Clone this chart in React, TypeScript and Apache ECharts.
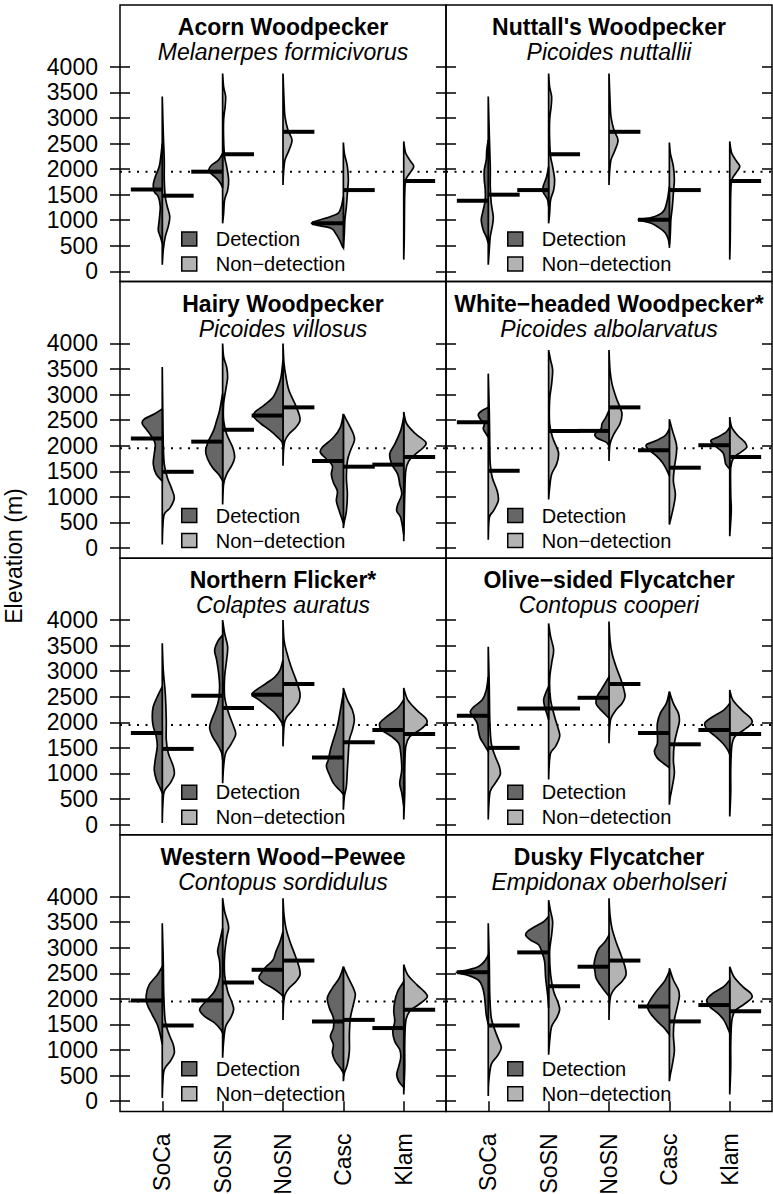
import React, { useEffect, useRef } from "react";
import * as echarts from "echarts";

// ---------- labels ----------
const REGIONS = ["SoCa", "SoSN", "NoSN", "Casc", "Klam"];
const ELEVATION_TICKS = [0, 500, 1000, 1500, 2000, 2500, 3000, 3500, 4000];
const REFERENCE_ELEVATION = 1950;
const COMMON_NAMES = [
  "Acorn Woodpecker",
  "Nuttall's Woodpecker",
  "Hairy Woodpecker",
  "White\u2212headed Woodpecker*",
  "Northern Flicker*",
  "Olive\u2212sided Flycatcher",
  "Western Wood\u2212Pewee",
  "Dusky Flycatcher",
];
const SCIENTIFIC_NAMES = [
  "Melanerpes formicivorus",
  "Picoides nuttallii",
  "Picoides villosus",
  "Picoides albolarvatus",
  "Colaptes auratus",
  "Contopus cooperi",
  "Contopus sordidulus",
  "Empidonax oberholseri",
];
const DETECTION = "Detection";
const NON_DETECTION = "Non\u2212detection";

// ---------- densities: [elevation, density] from top to bottom, per region ----------
// Acorn Woodpecker
const ACWO_DET = [
  [[2500, 0], [2240, 1.5], [2050, 3], [1850, 7], [1690, 9], [1560, 8], [1460, 4], [1270, 2], [1010, 3], [810, 4], [680, 2], [550, 0]],
  [[2310, 0], [2180, 4], [2080, 11], [1980, 14], [1920, 12], [1820, 6], [1720, 2], [1630, 0]],
  null,
  [[1460, 0], [1270, 2], [1140, 5], [1070, 13], [940, 32], [850, 13], [750, 8], [620, 4], [490, 1], [460, 0]],
  null,
];
const ACWO_DET_MED = [1600, 1950, null, 940, null];
const ACWO_NON = [
  [[3420, 0], [2700, 1], [2180, 2], [1790, 2], [1460, 3], [1270, 5], [1070, 7.5], [880, 6], [680, 3], [420, 1], [130, 0]],
  [[3870, 0], [3610, 1], [3420, 3], [3220, 2.5], [2960, 1], [2570, 1], [2240, 2], [2050, 4], [1790, 6], [1590, 5], [1400, 2], [1140, 1], [940, 0]],
  [[3870, 0], [3350, 1], [3020, 2], [2760, 5], [2570, 9], [2370, 6], [2180, 2], [1920, 0.5], [1690, 0]],
  [[2520, 0], [2310, 1], [2050, 4], [1790, 5], [1530, 4], [1270, 3], [1010, 1.5], [750, 1], [460, 0]],
  [[2540, 0], [2310, 2], [2150, 7], [2050, 10], [1920, 6], [1790, 2], [1530, 1], [1070, 0.7], [620, 0.5], [230, 0]],
];
const ACWO_NON_MED = [1480, 2290, 2730, 1590, 1770];

// Nuttall's Woodpecker
const NUWO_DET = [
  [[2570, 0], [2370, 1.5], [2180, 2], [1980, 4], [1790, 4], [1590, 3], [1400, 3], [1200, 5], [1010, 7], [810, 5], [680, 2], [550, 0]],
  [[2050, 0], [1850, 2], [1690, 5], [1590, 6], [1500, 4], [1400, 1], [1270, 0]],
  null,
  [[1660, 0], [1400, 2], [1200, 5], [1110, 10], [1040, 20], [1010, 31], [940, 18], [850, 10], [750, 4], [620, 1], [520, 0]],
  null,
];
const NUWO_DET_MED = [1380, 1590, null, 1010, null];
const NUWO_NON = [
  [[3420, 0], [2700, 1], [2050, 2], [1660, 2], [1330, 3], [1070, 5], [880, 4], [680, 2], [420, 1], [130, 0]],
  [[3870, 0], [3610, 1], [3420, 3], [3220, 2.5], [2960, 1], [2570, 1], [2240, 2], [2050, 4], [1790, 6], [1590, 5], [1400, 2], [1140, 1], [940, 0]],
  [[3870, 0], [3350, 1], [3020, 2], [2760, 5], [2570, 9], [2370, 6], [2180, 2], [1920, 0.5], [1690, 0]],
  [[2520, 0], [2310, 1], [2050, 4], [1790, 5], [1530, 4], [1270, 3], [1010, 1.5], [750, 1], [460, 0]],
  [[2540, 0], [2310, 2], [2150, 7], [2050, 10], [1920, 6], [1790, 2], [1530, 1], [1070, 0.7], [620, 0.5], [230, 0]],
];
const NUWO_NON_MED = [1500, 2290, 2730, 1590, 1770];

// Hairy Woodpecker
const HAWO_DET = [
  [[2720, 0], [2620, 8], [2520, 18], [2430, 20], [2300, 15], [2160, 10], [2030, 7], [1840, 8], [1640, 9], [1440, 6], [1310, 0]],
  [[3020, 0], [2690, 3], [2490, 6], [2300, 9], [2100, 14], [1900, 17], [1740, 15], [1570, 10], [1440, 4], [1310, 0]],
  [[3670, 0], [3340, 2], [3150, 5], [2950, 10], [2790, 19], [2660, 28], [2560, 29], [2430, 22], [2300, 13], [2160, 5], [2070, 1], [1970, 0]],
  [[2620, 0], [2360, 3], [2160, 10], [1970, 21], [1870, 23], [1740, 17], [1610, 11], [1440, 12], [1280, 10], [1110, 6], [920, 7], [720, 4], [490, 0]],
  [[2560, 0], [2300, 3], [2030, 9], [1840, 14], [1640, 12], [1440, 6], [1250, 4], [1050, 2], [850, 6], [720, 7], [590, 3], [260, 0]],
];
const HAWO_DET_MED = [2140, 2080, 2590, 1700, 1630];
const HAWO_NON = [
  [[3540, 0], [2690, 0.5], [2030, 1], [1640, 2], [1380, 5], [1180, 9], [980, 12], [790, 8], [660, 2], [390, 0.5], [70, 0]],
  [[4000, 0], [3740, 1], [3540, 4], [3340, 5], [3080, 3], [2820, 1], [2490, 1], [2230, 4], [1970, 10], [1770, 12], [1610, 9], [1440, 4], [1250, 1], [850, 0]],
  [[4000, 0], [3610, 1], [3340, 3], [3080, 6], [2820, 12], [2620, 16], [2490, 17], [2360, 13], [2230, 6], [2100, 2], [1900, 0.5], [1610, 0]],
  [[2620, 0], [2430, 5], [2230, 10], [2100, 11], [1900, 7], [1700, 4], [1380, 3], [1050, 4], [720, 3], [520, 1], [390, 0]],
  [[2660, 0], [2430, 3], [2230, 12], [2070, 22], [1970, 20], [1840, 12], [1700, 5], [1510, 2], [1050, 1], [590, 0.5], [130, 0]],
];
const HAWO_NON_MED = [1490, 2310, 2750, 1590, 1780];

// White-headed Woodpecker
const WHWO_DET = [
  [[2750, 0], [2690, 6], [2610, 10], [2520, 8], [2430, 4], [2330, 5], [2230, 2], [2160, 0]],
  null,
  [[2690, 0], [2560, 3], [2430, 7], [2330, 8], [2230, 14], [2150, 12], [2070, 3], [2000, 0]],
  [[2330, 0], [2200, 4], [2100, 13], [2020, 23], [1930, 21], [1800, 13], [1670, 7], [1540, 3], [1410, 0]],
  [[2360, 0], [2260, 4], [2160, 13], [2100, 19], [2000, 15], [1870, 7], [1740, 5], [1640, 4], [1540, 0]],
];
const WHWO_DET_MED = [2460, null, 2290, 1910, 2010];
const WHWO_NON = [
  [[3410, 0], [2690, 1], [2030, 1.5], [1640, 2], [1380, 4], [1110, 9], [920, 10], [720, 5], [590, 1], [160, 0]],
  [[3870, 0], [3670, 2], [3480, 4], [3210, 3], [2890, 1], [2430, 1], [2160, 4], [1970, 8], [1840, 10], [1640, 8], [1440, 3], [1180, 1], [950, 0]],
  [[3870, 0], [3480, 1], [3210, 3], [2950, 7], [2750, 11], [2620, 13], [2430, 11], [2230, 5], [2030, 1], [1700, 0]],
  [[2520, 0], [2300, 3], [2030, 7], [1840, 7], [1570, 5], [1310, 4], [1050, 6], [790, 4], [460, 0]],
  [[2560, 0], [2360, 2], [2200, 8], [2070, 15], [1970, 17], [1870, 11], [1770, 4], [1570, 1], [1050, 1], [720, 1.5], [230, 0]],
];
const WHWO_NON_MED = [1510, 2290, 2750, 1570, 1780];

// Northern Flicker
const NOFL_DET = [
  [[2700, 0], [2500, 5], [2310, 9], [2110, 10], [1920, 9], [1720, 6], [1530, 5], [1270, 7], [1070, 8], [880, 6], [750, 3], [620, 0]],
  [[3710, 0], [3580, 5], [3410, 8], [3220, 6], [2960, 4], [2700, 3], [2440, 4], [2240, 7], [2050, 11], [1890, 13], [1720, 10], [1560, 5], [1400, 1], [1270, 0]],
  [[3220, 0], [3020, 3], [2890, 8], [2760, 17], [2630, 27], [2540, 31], [2440, 24], [2310, 16], [2180, 8], [2050, 3], [1950, 0]],
  [[2570, 0], [2240, 3], [1920, 6], [1660, 10], [1460, 13], [1270, 15], [1140, 17], [980, 14], [810, 10], [680, 4], [590, 0]],
  [[2440, 0], [2280, 6], [2110, 17], [1980, 24], [1850, 22], [1720, 12], [1590, 5], [1400, 3], [1070, 2], [810, 4], [620, 2], [360, 0]],
];
const NOFL_DET_MED = [1790, 2520, 2540, 1310, 1850];
const NOFL_NON = [
  [[3545, 0], [3020, 1], [2570, 3], [2050, 4], [1660, 4], [1400, 6], [1140, 11], [980, 12], [810, 8], [650, 2], [360, 0.5], [30, 0]],
  [[4000, 0], [3740, 2], [3480, 5], [3220, 4], [2890, 2], [2500, 2], [2180, 6], [1920, 11], [1760, 13], [1560, 8], [1400, 3], [1140, 1], [810, 0]],
  [[4000, 0], [3610, 1], [3350, 4], [3090, 8], [2830, 13], [2570, 17], [2410, 16], [2240, 10], [2080, 3], [1920, 1], [1530, 0]],
  [[2670, 0], [2440, 4], [2240, 9], [2050, 11], [1850, 9], [1660, 6], [1400, 5], [1070, 4], [750, 3], [550, 1], [290, 0]],
  [[2670, 0], [2440, 4], [2240, 13], [2080, 22], [1980, 23], [1850, 16], [1720, 6], [1530, 2], [1070, 1], [620, 1], [100, 0]],
];
const NOFL_NON_MED = [1480, 2280, 2750, 1610, 1770];

// Olive-sided Flycatcher
const OSFL_DET = [
  [[2890, 0], [2630, 2], [2440, 6], [2310, 14], [2210, 18], [2110, 15], [1980, 11], [1850, 10], [1690, 8], [1560, 4], [1430, 0]],
  [[2700, 0], [2570, 3], [2440, 5], [2310, 4], [2180, 2], [2050, 0]],
  [[2890, 0], [2760, 4], [2630, 8], [2500, 12], [2370, 13], [2280, 10], [2180, 5], [2080, 0]],
  [[2600, 0], [2370, 3], [2180, 9], [1980, 12], [1790, 12], [1590, 12], [1430, 15], [1300, 12], [1200, 6], [1110, 0]],
  [[2370, 0], [2240, 6], [2110, 17], [1980, 25], [1850, 22], [1720, 14], [1590, 7], [1460, 2], [1370, 0]],
];
const OSFL_DET_MED = [2130, 2270, 2480, 1790, 1850];
const OSFL_NON = [
  [[3480, 0], [2700, 1], [2050, 1.5], [1590, 3], [1330, 7], [1140, 11], [980, 12], [810, 7], [650, 2], [360, 0.5], [100, 0]],
  [[3935, 0], [3675, 2], [3415, 5], [3155, 3], [2830, 1], [2440, 2], [2110, 6], [1850, 10], [1720, 11], [1530, 7], [1400, 2], [1140, 0.5], [880, 0]],
  [[3970, 0], [3610, 1], [3350, 3], [3090, 7], [2830, 12], [2630, 15], [2500, 16], [2370, 13], [2240, 7], [2080, 2], [1850, 0.5], [1590, 0]],
  [[2600, 0], [2370, 4], [2180, 9], [2020, 10], [1850, 8], [1590, 5], [1270, 4], [1010, 5], [750, 3], [550, 1], [390, 0]],
  [[2630, 0], [2440, 3], [2240, 12], [2080, 21], [1980, 22], [1850, 14], [1720, 5], [1530, 2], [1070, 1], [620, 1], [160, 0]],
];
const OSFL_NON_MED = [1500, 2270, 2750, 1570, 1770];

// Western Wood-Pewee
const WEWP_DET = [
  [[2630, 0], [2470, 5], [2280, 13], [2080, 16], [1890, 15], [1690, 10], [1500, 5], [1300, 2], [1110, 0]],
  [[3380, 0], [3120, 3], [2930, 5], [2730, 3], [2410, 3], [2150, 8], [1950, 17], [1790, 23], [1660, 18], [1530, 8], [1400, 2], [1330, 0]],
  [[3320, 0], [3120, 3], [2930, 7], [2760, 10], [2630, 17], [2500, 22], [2410, 24], [2310, 19], [2210, 10], [2110, 3], [2050, 0]],
  [[2630, 0], [2410, 4], [2210, 11], [2020, 16], [1820, 14], [1630, 10], [1430, 10], [1270, 13], [1110, 10], [940, 11], [780, 8], [650, 3], [550, 0]],
  [[2340, 0], [2150, 6], [1950, 9], [1760, 10], [1560, 9], [1370, 11], [1170, 9], [1010, 4], [850, 3], [680, 5], [520, 7], [390, 5], [270, 0]],
];
const WEWP_DET_MED = [1970, 1970, 2570, 1560, 1430];
const WEWP_NON = [
  [[3480, 0], [2730, 1], [2080, 1.5], [1560, 3], [1300, 7], [1110, 11], [940, 12], [780, 8], [620, 2], [330, 0.5], [65, 0]],
  [[3970, 0], [3710, 2], [3510, 5], [3380, 6], [3190, 4], [2860, 2], [2470, 2], [2150, 5], [1950, 9], [1790, 11], [1630, 8], [1460, 3], [1170, 1], [850, 0]],
  [[3970, 0], [3640, 1], [3380, 3], [3120, 7], [2860, 12], [2630, 16], [2470, 17], [2340, 13], [2210, 6], [2080, 2], [1890, 0.5], [1590, 0]],
  [[2630, 0], [2410, 5], [2210, 10], [2080, 12], [1890, 10], [1630, 7], [1300, 6], [980, 6], [720, 4], [550, 1], [390, 0]],
  [[2670, 0], [2470, 4], [2280, 13], [2110, 22], [2020, 23], [1890, 15], [1760, 6], [1560, 2], [1110, 1], [650, 1], [130, 0]],
];
const WEWP_NON_MED = [1480, 2320, 2750, 1590, 1790];

// Dusky Flycatcher
const DUFL_DET = [
  [[2860, 0], [2730, 4], [2630, 10], [2570, 20], [2520, 32], [2460, 20], [2370, 10], [2240, 6], [2080, 4], [1890, 3], [1690, 2], [1500, 0]],
  [[3610, 0], [3510, 5], [3410, 14], [3320, 21], [3250, 23], [3150, 18], [3060, 10], [2930, 7], [2730, 4], [2410, 3], [2080, 1], [1820, 0]],
  [[3250, 0], [3120, 4], [2990, 10], [2860, 13], [2670, 15], [2540, 14], [2410, 13], [2280, 9], [2150, 4], [2050, 0]],
  [[2540, 0], [2340, 5], [2150, 13], [1980, 19], [1850, 22], [1720, 19], [1560, 12], [1430, 5], [1300, 0]],
  [[2370, 0], [2240, 6], [2110, 17], [1980, 23], [1850, 20], [1720, 12], [1590, 6], [1430, 2], [1330, 0]],
];
const DUFL_DET_MED = [2520, 2910, 2630, 1850, 1880];
const DUFL_NON = [
  [[3480, 0], [2730, 1], [2080, 1.5], [1630, 3], [1370, 7], [1170, 11], [1040, 13], [880, 9], [720, 3], [390, 0.5], [100, 0]],
  [[3930, 0], [3710, 2], [3510, 4], [3250, 3], [2930, 1], [2470, 2], [2150, 5], [1950, 9], [1790, 11], [1630, 8], [1460, 3], [1170, 1], [910, 0]],
  [[3970, 0], [3640, 1], [3380, 3], [3120, 7], [2860, 12], [2630, 16], [2470, 17], [2340, 13], [2210, 6], [2080, 2], [1890, 0.5], [1590, 0]],
  [[2600, 0], [2370, 4], [2180, 9], [2050, 10], [1850, 8], [1590, 5], [1300, 4], [980, 5], [720, 3], [520, 1], [390, 0]],
  [[2630, 0], [2440, 4], [2240, 13], [2110, 21], [2020, 22], [1890, 14], [1760, 5], [1560, 2], [1110, 1], [650, 1], [130, 0]],
];
const DUFL_NON_MED = [1480, 2250, 2750, 1560, 1760];

const PANELS = [
  { det: ACWO_DET, detMed: ACWO_DET_MED, non: ACWO_NON, nonMed: ACWO_NON_MED },
  { det: NUWO_DET, detMed: NUWO_DET_MED, non: NUWO_NON, nonMed: NUWO_NON_MED },
  { det: HAWO_DET, detMed: HAWO_DET_MED, non: HAWO_NON, nonMed: HAWO_NON_MED },
  { det: WHWO_DET, detMed: WHWO_DET_MED, non: WHWO_NON, nonMed: WHWO_NON_MED },
  { det: NOFL_DET, detMed: NOFL_DET_MED, non: NOFL_NON, nonMed: NOFL_NON_MED },
  { det: OSFL_DET, detMed: OSFL_DET_MED, non: OSFL_NON, nonMed: OSFL_NON_MED },
  { det: WEWP_DET, detMed: WEWP_DET_MED, non: WEWP_NON, nonMed: WEWP_NON_MED },
  { det: DUFL_DET, detMed: DUFL_DET_MED, non: DUFL_NON, nonMed: DUFL_NON_MED },
];

// ---------- layout & style ----------
const FONT = "'Liberation Sans', Arial, Helvetica, sans-serif";
const DARK = "#666666";
const LIGHT = "#b3b3b3";
const COL_LEFT = [120, 446];
const GRID_W = 326;
const ROW_TOP = 5;
const ROW_H = 276.6;
const X_MIN = 0.3;
const X_MAX = 5.7;
const Y_MIN = -200;
const Y_MAX = 5210;
const DENSITY_TO_X = 1 / 60.37;
const MEDIAN_HALF = 0.52;
const LABEL_SIZE = 23;

function halfViolinPath(pts: number[][], cx: number, side: number): string {
  const n = pts.length;
  const f = (v: number) => v.toFixed(2);
  const clampX = (x: number) => (side < 0 ? Math.min(x, cx) : Math.max(x, cx));
  let d = `M${f(pts[0][0])},${f(pts[0][1])}`;
  for (let i = 0; i < n - 1; i++) {
    const p0 = pts[Math.max(i - 1, 0)];
    const p1 = pts[i];
    const p2 = pts[i + 1];
    const p3 = pts[Math.min(i + 2, n - 1)];
    const lo = Math.min(p1[1], p2[1]);
    const hi = Math.max(p1[1], p2[1]);
    const c1x = clampX(p1[0] + (p2[0] - p0[0]) / 6);
    const c1y = Math.min(hi, Math.max(lo, p1[1] + (p2[1] - p0[1]) / 6));
    const c2x = clampX(p2[0] - (p3[0] - p1[0]) / 6);
    const c2y = Math.min(hi, Math.max(lo, p2[1] - (p3[1] - p1[1]) / 6));
    d += ` C${f(c1x)},${f(c1y)} ${f(c2x)},${f(c2y)} ${f(p2[0])},${f(p2[1])}`;
  }
  return d + " Z";
}

function violinSeries(name: string, profiles: any[], side: number, fill: string, g: number, yIdx: number) {
  const entries = profiles
    .map((p, i) => (p ? { cat: i + 1, profile: p } : null))
    .filter(Boolean) as { cat: number; profile: number[][] }[];
  return {
    type: "custom",
    name,
    xAxisIndex: g,
    yAxisIndex: yIdx,
    z: 2,
    silent: true,
    itemStyle: { color: fill },
    data: entries.map((e) => [e.cat, e.profile[0][0]]),
    renderItem: (params: any, api: any) => {
      const e = entries[params.dataIndex];
      const pts = e.profile.map(([elev, dens]) => api.coord([e.cat + side * dens * DENSITY_TO_X, elev]));
      const cx = api.coord([e.cat, 0])[0];
      return {
        type: "path",
        shape: { pathData: halfViolinPath(pts, cx, side) },
        style: { fill, stroke: "#000", lineWidth: 1.7 },
      };
    },
  };
}

function medianSeries(medians: (number | null)[], side: number, g: number, yIdx: number) {
  const data = medians
    .map((m, i) => (m == null ? null : [i + 1, m]))
    .filter(Boolean);
  return {
    type: "custom",
    xAxisIndex: g,
    yAxisIndex: yIdx,
    z: 4,
    silent: true,
    data,
    renderItem: (params: any, api: any) => {
      const cat = api.value(0);
      const m = api.value(1);
      const a = api.coord([cat, m]);
      const b = api.coord([cat + side * MEDIAN_HALF, m]);
      return {
        type: "line",
        shape: { x1: a[0], y1: a[1], x2: b[0], y2: b[1] },
        style: { stroke: "#000", lineWidth: 4 },
      };
    },
  };
}

function buildOption() {
  const grid: any[] = [];
  const xAxis: any[] = [];
  const yAxis: any[] = [];
  const series: any[] = [];
  const legend: any[] = [];
  const graphic: any[] = [];
  const tickLine = { color: "#000", width: 1.5 };

  PANELS.forEach((p, g) => {
    const col = g % 2;
    const row = Math.floor(g / 2);
    const left = COL_LEFT[col];
    const top = ROW_TOP + row * ROW_H;
    const bottomRow = row === 3;

    grid.push({
      left,
      top,
      width: GRID_W,
      height: ROW_H,
      show: true,
      borderColor: "#000",
      borderWidth: 1.5,
      backgroundColor: "transparent",
      containLabel: false,
      outerBoundsMode: "none",
    });

    xAxis.push({
      type: "value",
      gridIndex: g,
      min: X_MIN,
      max: X_MAX,
      axisLine: { show: false },
      splitLine: { show: false },
      axisTick: bottomRow
        ? { show: true, inside: false, length: 10, customValues: [1, 2, 3, 4, 5], lineStyle: tickLine }
        : { show: false },
      axisLabel: bottomRow
        ? {
            show: true,
            customValues: [1, 2, 3, 4, 5],
            formatter: (v: number) => REGIONS[Math.round(v) - 1],
            rotate: 90,
            margin: 22,
            fontSize: LABEL_SIZE,
            color: "#000",
            fontFamily: FONT,
          }
        : { show: false },
    });

    const yIdx = yAxis.length;
    const baseY = {
      type: "value",
      gridIndex: g,
      min: Y_MIN,
      max: Y_MAX,
      axisLine: { show: false },
      splitLine: { show: false },
      axisLabel: { show: false },
    };
    yAxis.push({ ...baseY, position: "left", axisTick: { show: true, inside: true, length: 10, customValues: ELEVATION_TICKS, lineStyle: tickLine } });
    yAxis.push({ ...baseY, position: "right", axisTick: { show: true, inside: true, length: 10, customValues: ELEVATION_TICKS, lineStyle: tickLine } });
    if (col === 0) {
      yAxis.push({
        ...baseY,
        position: "left",
        axisTick: { show: true, inside: false, length: 10, customValues: ELEVATION_TICKS, lineStyle: tickLine },
        axisLabel: {
          show: true,
          customValues: ELEVATION_TICKS,
          formatter: (v: number) => String(Math.round(v)),
          margin: 22,
          fontSize: LABEL_SIZE,
          color: "#000",
          fontFamily: FONT,
        },
      });
    }

    series.push({
      type: "line",
      xAxisIndex: g,
      yAxisIndex: yIdx,
      z: 1,
      silent: true,
      symbol: "none",
      data: [[X_MIN, REFERENCE_ELEVATION], [X_MAX, REFERENCE_ELEVATION]],
      lineStyle: { color: "#000", width: 2, type: [2, 6.5] },
    });
    series.push(violinSeries(NON_DETECTION, p.non, 1, LIGHT, g, yIdx));
    series.push(violinSeries(DETECTION, p.det, -1, DARK, g, yIdx));
    series.push(medianSeries(p.nonMed, 1, g, yIdx));
    series.push(medianSeries(p.detMed, -1, g, yIdx));

    legend.push({
      left: left + 61,
      top: top + 224,
      orient: "vertical",
      padding: 0,
      itemGap: 5,
      itemWidth: 15,
      itemHeight: 14,
      selectedMode: false,
      textStyle: { fontSize: 20, fontFamily: FONT, color: "#000", lineHeight: 20, padding: [0, 0, 0, 14] },
      data: [
        { name: DETECTION, icon: "rect", itemStyle: { color: DARK, borderColor: "#000", borderWidth: 1.5 } },
        { name: NON_DETECTION, icon: "rect", itemStyle: { color: LIGHT, borderColor: "#000", borderWidth: 1.5 } },
      ],
    });

    graphic.push({
      type: "text",
      x: left + GRID_W / 2,
      y: top + 22,
      z: 10,
      style: {
        text: COMMON_NAMES[g],
        fill: "#000",
        fontSize: LABEL_SIZE,
        fontWeight: "bold",
        fontFamily: FONT,
        align: "center",
        verticalAlign: "middle",
        textAlign: "center",
        textVerticalAlign: "middle",
      },
    });
    graphic.push({
      type: "text",
      x: left + GRID_W / 2,
      y: top + 47,
      z: 10,
      style: {
        text: SCIENTIFIC_NAMES[g],
        fill: "#000",
        fontSize: LABEL_SIZE,
        fontStyle: "italic",
        fontFamily: FONT,
        align: "center",
        verticalAlign: "middle",
        textAlign: "center",
        textVerticalAlign: "middle",
      },
    });
  });

  graphic.push({
    type: "text",
    x: 14,
    y: 556,
    rotation: Math.PI / 2,
    style: {
      text: "Elevation (m)",
      fill: "#000",
      fontSize: LABEL_SIZE,
      fontFamily: FONT,
      align: "center",
      verticalAlign: "middle",
      textAlign: "center",
      textVerticalAlign: "middle",
    },
  });

  return {
    animation: false,
    backgroundColor: "#fff",
    grid,
    xAxis,
    yAxis,
    series,
    legend,
    graphic,
  };
}

export default function App() {
  const ref = useRef<HTMLDivElement>(null);
  useEffect(() => {
    if (!ref.current) return;
    const chart = echarts.init(ref.current, null, { renderer: "svg" });
    chart.setOption(buildOption() as any);
    return () => chart.dispose();
  }, []);
  return <div ref={ref} style={{ position: "fixed", left: 0, top: 0, width: 773, height: 1194 }} />;
}
